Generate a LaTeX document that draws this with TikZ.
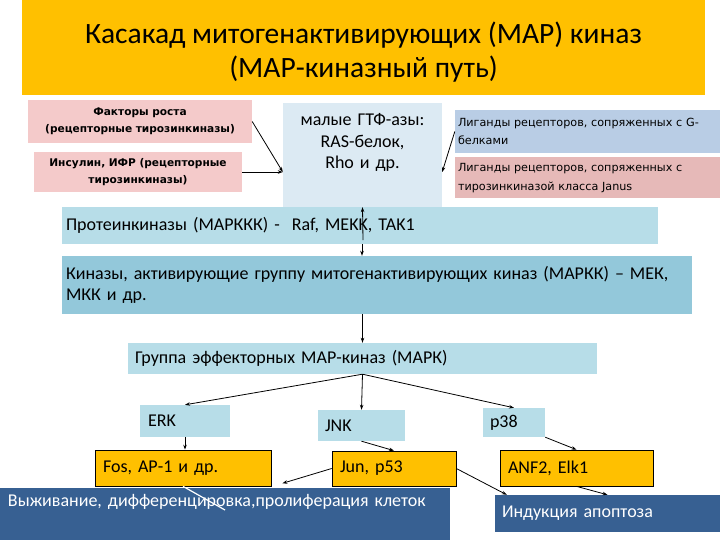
\documentclass[tikz,border=0pt]{standalone}
\usepackage{fontspec}
\setmainfont{Carlito}
\newfontfamily\smallsans{DejaVu Sans}
\usepackage{xcolor}
\usetikzlibrary{arrows.meta,positioning}
\definecolor{titleorange}{HTML}{FFC000}
\definecolor{rosepink}{HTML}{F4CACA}
\definecolor{janpink}{HTML}{E6B9B8}
\definecolor{gtpblue}{HTML}{DCEAF3}
\definecolor{gblue}{HTML}{B9CDE5}
\definecolor{kinblue}{HTML}{B7DDE8}
\definecolor{kkblue}{HTML}{93C8DA}
\definecolor{deepblue}{HTML}{376092}

\begin{document}
\begin{tikzpicture}[x=1pt, y=-1pt,
  box/.style={rectangle, inner xsep=7pt, inner ysep=0pt, align=left, font=\fontsize{18}{21}\selectfont},
  ttl/.style={rectangle, fill=titleorange, minimum width=683pt, minimum height=95pt, align=center, font=\fontsize{29.5}{34}\selectfont},
  pinkbox/.style={box, fill=rosepink, align=center, font=\smallsans\bfseries\fontsize{10.6}{17}\selectfont},
  ligbox/.style={box, inner xsep=3pt, font=\smallsans\fontsize{11.2}{18.5}\selectfont},
  gtpbox/.style={box, fill=gtpblue, align=center, font=\fontsize{18}{21.5}\selectfont},
  tfbox/.style={box, fill=titleorange, draw=black, line width=0.7pt, inner xsep=8pt},
  outbox/.style={box, fill=deepblue, text=white, inner xsep=8pt},
  arr/.style={-{Stealth[length=5pt,width=3.5pt]}, line width=0.8pt}
]
\useasboundingbox (0,0) rectangle (720,540);
\node[ttl] (title) at (363.5,47.5) {\rule{0pt}{31pt}Касакад митогенактивирующих (МАР) киназ\\(МАР-киназный путь)};
\node[pinkbox, text width=210pt, minimum height=43pt] (growth) at (140,121.5) {Факторы роста\\(рецепторные тирозинкиназы)};
\node[pinkbox, text width=194pt, minimum height=40pt] (insulin) at (138,172) {Инсулин, ИФР (рецепторные\\тирозинкиназы)};
\node[gtpbox, text width=145pt, minimum height=104pt] (gtp) at (362.5,155) {малые ГТФ-азы:\\RAS-белок,\\Rho и др.\\[6pt]\mbox{}};
\node[ligbox, fill=gblue, text width=259pt, minimum height=43pt] (gcoupled) at (587.5,131.5) {Лиганды рецепторов, сопряженных с G-\\белками};
\node[ligbox, fill=janpink, text width=259pt, minimum height=41pt, below=4pt of gcoupled] (janus) {Лиганды рецепторов, сопряженных с\\тирозинкиназой класса Janus};
\node[box, fill=kinblue, inner xsep=4pt, text width=588pt, minimum height=37pt] (mapkkk) at (360,225.5) {Протеинкиназы (МАРККК) -\ \ Raf, MEKK, TAK1};
\node[box, fill=kkblue, inner xsep=4pt, text width=622pt, minimum height=58pt] (mapkk) at (377,285) {Киназы, активирующие группу митогенактивирующих киназ (МАРКК) -- МЕК,\\МКК и др.};
\node[box, fill=kinblue, text width=455pt, minimum height=31pt] (mapk) at (362.5,358.5) {Группа эффекторных МАР-киназ (МАРК)};
\node[box, fill=kinblue, inner xsep=8pt, text width=74pt, minimum height=32pt] (erk) at (185,421) {ERK};
\node[box, fill=kinblue, text width=73pt, minimum height=31pt] (jnk) at (361.5,425.5) {JNK};
\node[box, fill=kinblue, text width=48pt, minimum height=29pt] (p38) at (514,422.5) {p38};
\node[tfbox, text width=160pt, minimum height=36pt] (fos) at (183,468) {Fos, АР-1 и др.};
\node[tfbox, text width=108pt, minimum height=35pt] (jun) at (394,468.5) {Jun, p53};
\node[tfbox, text width=137pt, minimum height=36pt] (anf) at (576.5,468) {ANF2, Elk1};
\node[outbox, text width=434pt, minimum height=52pt] (survival) at (225,514) {Выживание, дифференцировка,пролиферация клеток\\[7pt]\mbox{}};
\node[outbox, inner xsep=7pt, text width=211pt, minimum height=37pt] (apoptosis) at (607.5,513.5) {Индукция апоптоза};
\coordinate (survend) at (225,510);
\draw[arr] (growth.east) -- (gtp.west |- insulin.east);
\draw[arr] (insulin.east) -- (gtp.west |- insulin.east);
\draw[arr] (gcoupled.west) -- (gtp.east |- insulin.east);
\draw[arr] ([shift={(3,-4)}]mapkkk.south) -- (gtp.south);
\draw[arr] ([xshift=2]mapkkk.south) -- ([xshift=2]mapkkk.south |- mapkk.north);
\draw[arr] (mapk.north |- mapkk.south) -- (mapk.north);
\draw[arr] (mapk.south) -- (erk.north);
\draw[arr] (mapk.south) -- (jnk.north);
\draw[arr] (mapk.south) -- (p38.north);
\draw[arr] (erk.south) -- (erk.south |- fos.north);
\draw[arr] (jnk.south) -- (jun.north);
\draw[arr] (p38.south east) -- (anf.north);
\draw[arr] (jun.west) -- ([shift={(11,-3)}]fos.south east);
\draw[arr] (jun.east) -- ([xshift=12]apoptosis.north west);
\draw[arr] (anf.south) -- (apoptosis.north);
\draw[white, line width=1.2pt] (fos.south) -- (survend);
\end{tikzpicture}
\end{document}
